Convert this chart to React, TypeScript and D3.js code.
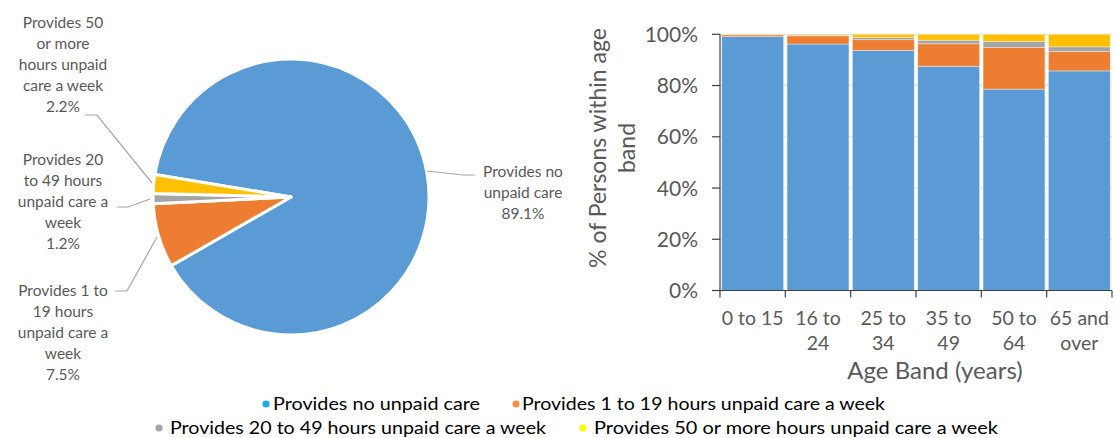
import React from "react";
import * as d3 from "d3";

const seriesNames = [
  "Provides no unpaid care",
  "Provides 1 to 19 hours unpaid care a week",
  "Provides 20 to 49 hours unpaid care a week",
  "Provides 50 or more hours unpaid care a week",
];
const pieValues = [89.1, 7.5, 1.2, 2.2];
const pieLabelLines = [
  ["Provides no", "unpaid care", "89.1%"],
  ["Provides 1 to", "19 hours", "unpaid care a", "week", "7.5%"],
  ["Provides 20", "to 49 hours", "unpaid care a", "week", "1.2%"],
  ["Provides 50", "or more", "hours unpaid", "care a week", "2.2%"],
];
const ageBands = ["0 to 15", "16 to 24", "25 to 34", "35 to 49", "50 to 64", "65 and over"];
const ageBandLines = [["0 to 15"], ["16 to", "24"], ["25 to", "34"], ["35 to", "49"], ["50 to", "64"], ["65 and", "over"]];
const noCare = [99.1, 96.2, 93.7, 87.5, 78.6, 85.7];
const care1to19 = [0.7, 3.2, 4.2, 8.8, 16.2, 7.6];
const care20to49 = [0.1, 0.3, 0.9, 1.4, 2.4, 1.8];
const care50plus = [0.1, 0.3, 1.2, 2.3, 2.8, 4.9];
const yTicks = [0, 20, 40, 60, 80, 100];

const colors = ["#5b9bd5", "#ed7d31", "#a5a5a5", "#ffc000"];
const legendColors = ["#1fa8ec", "#f5904a", "#a6a6a6", "#ffff00"];
const textColor = "#595959";
const FONT = "Lato, 'Open Sans', sans-serif";

export default function App() {
  // ---- Pie ----
  const cx = 291, cy = 197, r = 138;
  const start = (279.4 * Math.PI) / 180;
  const pie = d3.pie<number>().sort(null).startAngle(start).endAngle(start + 2 * Math.PI);
  const arcs = pie(pieValues);
  const arcGen = d3.arc<d3.PieArcDatum<number>>().innerRadius(0).outerRadius(r);

  const labelLayout = [
    { x: 523, y: 177, lx1: 475, lx2: 463, ly: 175, lead: [427, 171] },
    { x: 63, y: 296, lx1: 115, lx2: 127, ly: 291, lead: [157, 237] },
    { x: 63, y: 165, lx1: 117, lx2: 128, ly: 207, lead: [150, 199] },
    { x: 63, y: 28, lx1: 85, lx2: 97, ly: 115, lead: [152, 183] },
  ];

  // ---- Bars ----
  const x0 = 720, x1 = 1112, yBottom = 290.5, yTop = 34.3;
  const xScale = d3.scaleBand<string>().domain(ageBands).range([x0, x1]).padding(0);
  const yScale = d3.scaleLinear().domain([0, 100]).range([yBottom, yTop]);
  const rows = ageBands.map((b, i) => ({
    band: b,
    s0: noCare[i],
    s1: care1to19[i],
    s2: care20to49[i],
    s3: care50plus[i],
  }));
  const stack = d3.stack<any>().keys(["s0", "s1", "s2", "s3"]);
  const stacked = stack(rows);
  const gap = 3.5;

  const legendItems = [
    { i: 0, bx: 266, by: 404, tx: 273, ty: 410, w: 207 },
    { i: 1, bx: 516, by: 404, tx: 522, ty: 410, w: 363 },
    { i: 2, bx: 159, by: 428, tx: 170, ty: 434, w: 376 },
    { i: 3, bx: 583, by: 428, tx: 594, ty: 434, w: 404 },
  ];

  return (
    <svg width={1115} height={438} style={{ position: "absolute", left: 0, top: 0, background: "#fff" }} fontFamily={FONT}>
      <rect x={0} y={0} width={1115} height={438} fill="#fff" />
      {/* Pie */}
      <g transform={`translate(${cx},${cy})`}>
        {arcs.map((a, i) => (
          <path key={i} d={arcGen(a) || ""} fill={colors[i]} stroke="#fff" strokeWidth={3} strokeLinejoin="round" />
        ))}
      </g>
      {arcs.map((a, i) => {
        const L = labelLayout[i];
        return (
          <g key={i}>
            <polyline
              points={`${L.lead[0]},${L.lead[1]} ${L.lx2},${L.ly} ${L.lx1},${L.ly}`}
              fill="none"
              stroke="#a6a6a6"
              strokeWidth={1.2}
            />
            <text x={L.x} y={L.y} fontSize={15.5} fill={textColor} textAnchor="middle">
              {pieLabelLines[i].map((t, j) => (
                <tspan key={j} x={L.x} y={L.y + j * 21}>
                  {t}
                </tspan>
              ))}
            </text>
          </g>
        );
      })}

      {/* Bar chart gridlines */}
      {yTicks.map((t) => (
        <line key={t} x1={x0} x2={x1} y1={yScale(t)} y2={yScale(t)} stroke="#d9d9d9" strokeWidth={1} />
      ))}
      {stacked.map((layer, si) =>
        layer.map((d, bi) => {
          const bx = (xScale(ageBands[bi]) as number) + gap / 2;
          const bw = xScale.bandwidth() - gap;
          const y1 = yScale(d[1]);
          const y0v = yScale(d[0]);
          return (
            <rect
              key={`${si}-${bi}`}
              x={bx}
              y={y1}
              width={bw}
              height={Math.max(0, y0v - y1)}
              fill={colors[si]}
              stroke="rgba(255,255,255,0.45)"
              strokeWidth={0.8}
            />
          );
        })
      )}
      {/* Axes */}
      <line x1={x0} x2={x0} y1={yTop} y2={yBottom} stroke="#404040" strokeWidth={1.2} />
      {yTicks.map((t) => (
        <g key={t}>
          <line x1={x0 - 8} x2={x0} y1={yScale(t)} y2={yScale(t)} stroke="#404040" strokeWidth={1.2} />
          <text x={698} y={yScale(t) + 7.5} fontSize={21} fill={textColor} textAnchor="end">
            {`${t}%`}
          </text>
        </g>
      ))}
      <line x1={x0} x2={x1} y1={yBottom} y2={yBottom} stroke="#404040" strokeWidth={1.2} />
      {[...ageBands.map((b) => xScale(b) as number), x1].map((xv, i) => (
        <line key={i} x1={xv} x2={xv} y1={yBottom} y2={yBottom + 7} stroke="#404040" strokeWidth={1.2} />
      ))}
      {ageBands.map((b, i) => {
        const xc = (xScale(b) as number) + xScale.bandwidth() / 2;
        return (
          <text key={b} x={xc} y={325} fontSize={19.5} fill={textColor} textAnchor="middle">
            {ageBandLines[i].map((t, j) => (
              <tspan key={j} x={xc} y={325 + j * 25}>
                {t}
              </tspan>
            ))}
          </text>
        );
      })}
      <text x={935} y={379} fontSize={24} fill={textColor} textAnchor="middle">
        Age Band (years)
      </text>
      <text transform={`translate(606,148) rotate(-90)`} fontSize={23} fill={textColor} textAnchor="middle">
        <tspan x={0} y={0}>% of Persons within age</tspan>
        <tspan x={0} y={29}>band</tspan>
      </text>

      {/* Legend */}
      {legendItems.map((l) => (
        <g key={l.i}>
          <circle cx={l.bx} cy={l.by} r={3.6} fill={legendColors[l.i]} />
          <text
            x={l.tx}
            y={l.ty}
            fontSize={18}
            fill="#000"
            textLength={l.w}
            lengthAdjust="spacingAndGlyphs"
          >
            {seriesNames[l.i]}
          </text>
        </g>
      ))}
    </svg>
  );
}
